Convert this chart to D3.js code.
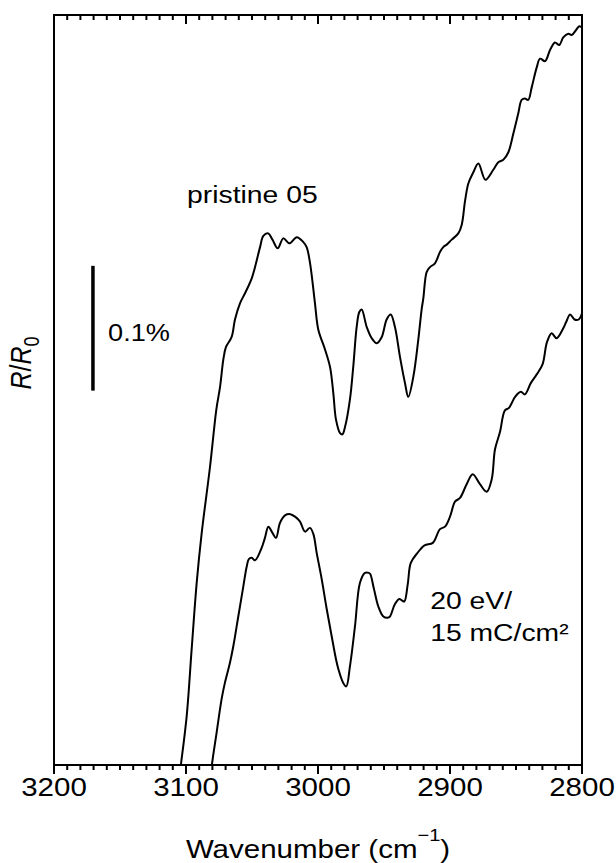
<!DOCTYPE html>
<html>
<head>
<meta charset="utf-8">
<script src="https://cdn.jsdelivr.net/npm/d3@7"></script>
<style>
  body { margin: 0; background: #fff; }
  text { font-family: Arial, "Liberation Sans", sans-serif; fill: #000; }
</style>
</head>
<body>
<div id="container"></div>
<script>
/* CONSTANTS AND GLOBALS */
const width = 616,
  height = 863,
  margin = { top: 15, right: 34, bottom: 97, left: 54 };
const stretch = 1.18; // text in the figure is a bit wider than tall

/* DATA (wavenumber in cm-1, R/R0 offset in %) */
const pristineWn = [3106, 3104, 3099.5, 3095.7, 3091.9, 3088.1, 3081.8, 3077, 3074.2, 3071.7, 3069.7, 3065.4, 3062.9, 3059.1, 3055.3, 3050.2, 3047.7, 3043.9, 3041.4, 3037.7, 3034.5, 3030.5, 3026.3, 3021.7, 3016.1, 3011.1, 3008.6, 3006, 3002.3, 2999.8, 2994.7, 2990.9, 2988.4, 2986.4, 2983.3, 2981.5, 2979.5, 2975.8, 2973.3, 2970.7, 2968.7, 2966.9, 2963.1, 2959.3, 2955.5, 2951.7, 2948, 2944.9, 2941.7, 2937.9, 2934.1, 2931.6, 2927.8, 2924, 2921.5, 2920.2, 2917.7, 2915.2, 2911.4, 2907.6, 2905.1, 2902.5, 2898.7, 2893.7, 2891.1, 2888.6, 2886.1, 2882.3, 2878.5, 2873.2, 2867.2, 2863.4, 2859.6, 2855.8, 2852, 2848.3, 2845.7, 2843.2, 2840.7, 2838.1, 2834.3, 2831.8, 2828, 2824.2, 2820.5, 2817.2, 2814.2, 2810.4, 2807.8, 2804.5, 2802, 2800];
const pristineR = [-0.018, -0.001, 0.039, 0.093, 0.146, 0.186, 0.239, 0.285, 0.303, 0.325, 0.335, 0.343, 0.357, 0.370, 0.378, 0.390, 0.399, 0.415, 0.424, 0.426, 0.421, 0.414, 0.422, 0.418, 0.423, 0.419, 0.415, 0.402, 0.370, 0.349, 0.333, 0.319, 0.298, 0.277, 0.266, 0.265, 0.271, 0.293, 0.319, 0.351, 0.363, 0.365, 0.351, 0.342, 0.338, 0.343, 0.357, 0.361, 0.351, 0.327, 0.306, 0.295, 0.311, 0.341, 0.365, 0.374, 0.395, 0.399, 0.402, 0.411, 0.415, 0.417, 0.421, 0.426, 0.433, 0.452, 0.466, 0.475, 0.482, 0.469, 0.477, 0.483, 0.485, 0.491, 0.506, 0.522, 0.533, 0.534, 0.533, 0.543, 0.559, 0.566, 0.564, 0.573, 0.579, 0.577, 0.583, 0.586, 0.585, 0.589, 0.592, 0.591];

const dosedWn = [3082, 3080.5, 3076.8, 3073, 3070.5, 3066.7, 3064.2, 3060.4, 3056.6, 3054, 3052.4, 3050.2, 3047.7, 3042.7, 3040.2, 3037.6, 3034.5, 3031.8, 3028.8, 3025, 3021, 3017.4, 3013.6, 3009.8, 3006.1, 3003.5, 3001, 2997.2, 2993.4, 2989.6, 2986.4, 2984.6, 2981, 2978.6, 2975.8, 2972, 2968.2, 2964.4, 2961.5, 2960.4, 2957.6, 2954.3, 2950.5, 2947.3, 2945.5, 2941.7, 2938.4, 2936.5, 2934.6, 2932, 2929.7, 2924.6, 2919.3, 2913, 2907.6, 2903.8, 2900, 2896.2, 2892.4, 2887.4, 2882.8, 2877.3, 2872.2, 2868.4, 2865.9, 2862.1, 2858.5, 2855.5, 2853.7, 2850.7, 2846.3, 2843.3, 2838.8, 2834.3, 2829.9, 2826.5, 2823, 2819.3, 2814.2, 2812, 2809, 2805.7, 2802.5, 2800];
const dosedR = [-0.018, -0.001, 0.026, 0.053, 0.066, 0.082, 0.095, 0.119, 0.143, 0.159, 0.165, 0.166, 0.164, 0.174, 0.182, 0.191, 0.186, 0.182, 0.194, 0.200, 0.201, 0.199, 0.195, 0.187, 0.190, 0.185, 0.170, 0.149, 0.125, 0.103, 0.085, 0.077, 0.066, 0.063, 0.079, 0.111, 0.146, 0.154, 0.154, 0.153, 0.141, 0.127, 0.119, 0.118, 0.119, 0.129, 0.133, 0.132, 0.131, 0.145, 0.162, 0.170, 0.176, 0.178, 0.189, 0.191, 0.199, 0.211, 0.214, 0.225, 0.233, 0.225, 0.219, 0.229, 0.253, 0.267, 0.284, 0.286, 0.289, 0.295, 0.299, 0.297, 0.306, 0.313, 0.321, 0.339, 0.346, 0.342, 0.350, 0.355, 0.361, 0.357, 0.357, 0.362];

const majorTicks = [3200, 3100, 3000, 2900, 2800];
const minorTicks = d3.range(3190, 2800, -10).filter(d => d % 100 !== 0);
const scaleBar = [0.3, 0.4]; // 0.1 %

const svg = d3.select("#container")
  .append("svg")
  .attr("width", width)
  .attr("height", height);

// SCALES
const bottomY = height - margin.bottom - 1;

const x = d3.scaleLinear()
  .domain([3200, 2800])
  .range([margin.left, width - margin.right]);

const y = d3.scaleLinear()
  .domain([0, 0.601])
  .range([bottomY, margin.top]);

svg.append("clipPath")
  .attr("id", "plot-clip")
  .append("rect")
  .attr("x", margin.left)
  .attr("y", margin.top)
  .attr("width", width - margin.left - margin.right)
  .attr("height", bottomY - margin.top);

// LINES
const line = d3.line()
  .x(d => x(d[0]))
  .y(d => y(d[1]))
  .curve(d3.curveCatmullRom.alpha(0.5));

const series = [
  d3.zip(pristineWn, pristineR),
  d3.zip(dosedWn, dosedR)
];

svg.append("g")
  .attr("clip-path", "url(#plot-clip)")
  .selectAll("path")
  .data(series)
  .join("path")
  .attr("fill", "none")
  .attr("stroke", "#000")
  .attr("stroke-width", 2)
  .attr("stroke-linejoin", "round")
  .attr("d", line);

// TICKS (bottom outward, top inward)
const tickData = [
  ...majorTicks.map(v => ({ v, len: 9 })),
  ...minorTicks.map(v => ({ v, len: 5 }))
];

svg.append("g")
  .selectAll("line.bt")
  .data(tickData)
  .join("line")
  .attr("class", "bt")
  .attr("x1", d => x(d.v)).attr("x2", d => x(d.v))
  .attr("y1", bottomY).attr("y2", d => bottomY + d.len)
  .attr("stroke", "#000")
  .attr("stroke-width", 2);

svg.append("g")
  .selectAll("line.tt")
  .data(tickData)
  .join("line")
  .attr("class", "tt")
  .attr("x1", d => x(d.v)).attr("x2", d => x(d.v))
  .attr("y1", margin.top).attr("y2", d => margin.top + d.len)
  .attr("stroke", "#000")
  .attr("stroke-width", 2);

svg.append("g")
  .selectAll("text")
  .data(majorTicks)
  .join("text")
  .attr("transform", d => `translate(${x(d)},${bottomY + 31}) scale(${stretch},1)`)
  .attr("text-anchor", "middle")
  .style("font-size", "25px")
  .text(d3.format("d"));

// FRAME
svg.append("rect")
  .attr("x", margin.left)
  .attr("y", margin.top)
  .attr("width", width - margin.left - margin.right)
  .attr("height", bottomY - margin.top)
  .attr("fill", "none")
  .attr("stroke", "#000")
  .attr("stroke-width", 2);

// AXIS TITLES
const xt = svg.append("text")
  .attr("transform", `translate(${(margin.left + width - margin.right) / 2},858) scale(${stretch},1)`)
  .attr("text-anchor", "middle")
  .style("font-size", "25px");
xt.append("tspan").text("Wavenumber (cm");
xt.append("tspan").attr("dy", -17).style("font-size", "17px").text("\u22121");
xt.append("tspan").attr("dy", 17).text(")");

const yt = svg.append("text")
  .attr("transform", `translate(31,363) rotate(-90) scale(1,${stretch})`)
  .attr("text-anchor", "middle")
  .style("font-size", "25px");
yt.append("tspan").style("font-style", "italic").text("R");
yt.append("tspan").text("/");
yt.append("tspan").style("font-style", "italic").text("R");
yt.append("tspan").attr("dy", 7).style("font-size", "18px").text("0");

// SCALE BAR
svg.append("line")
  .attr("x1", x(3170.5)).attr("x2", x(3170.5))
  .attr("y1", y(scaleBar[0])).attr("y2", y(scaleBar[1]))
  .attr("stroke", "#000")
  .attr("stroke-width", 3.5);

// ANNOTATIONS
const note = (wn, val, txt, size) => svg.append("text")
  .attr("transform", `translate(${x(wn)},${y(val)}) scale(${stretch},1)`)
  .style("font-size", size + "px")
  .text(txt);

note(3159, 0.34, "0.1%", 23);
note(3099.2, 0.450, "pristine 05", 24);
note(2915, 0.125, "20 eV/", 24);
note(2915, 0.0995, "15 mC/cm\u00b2", 24);
</script>
</body>
</html>
